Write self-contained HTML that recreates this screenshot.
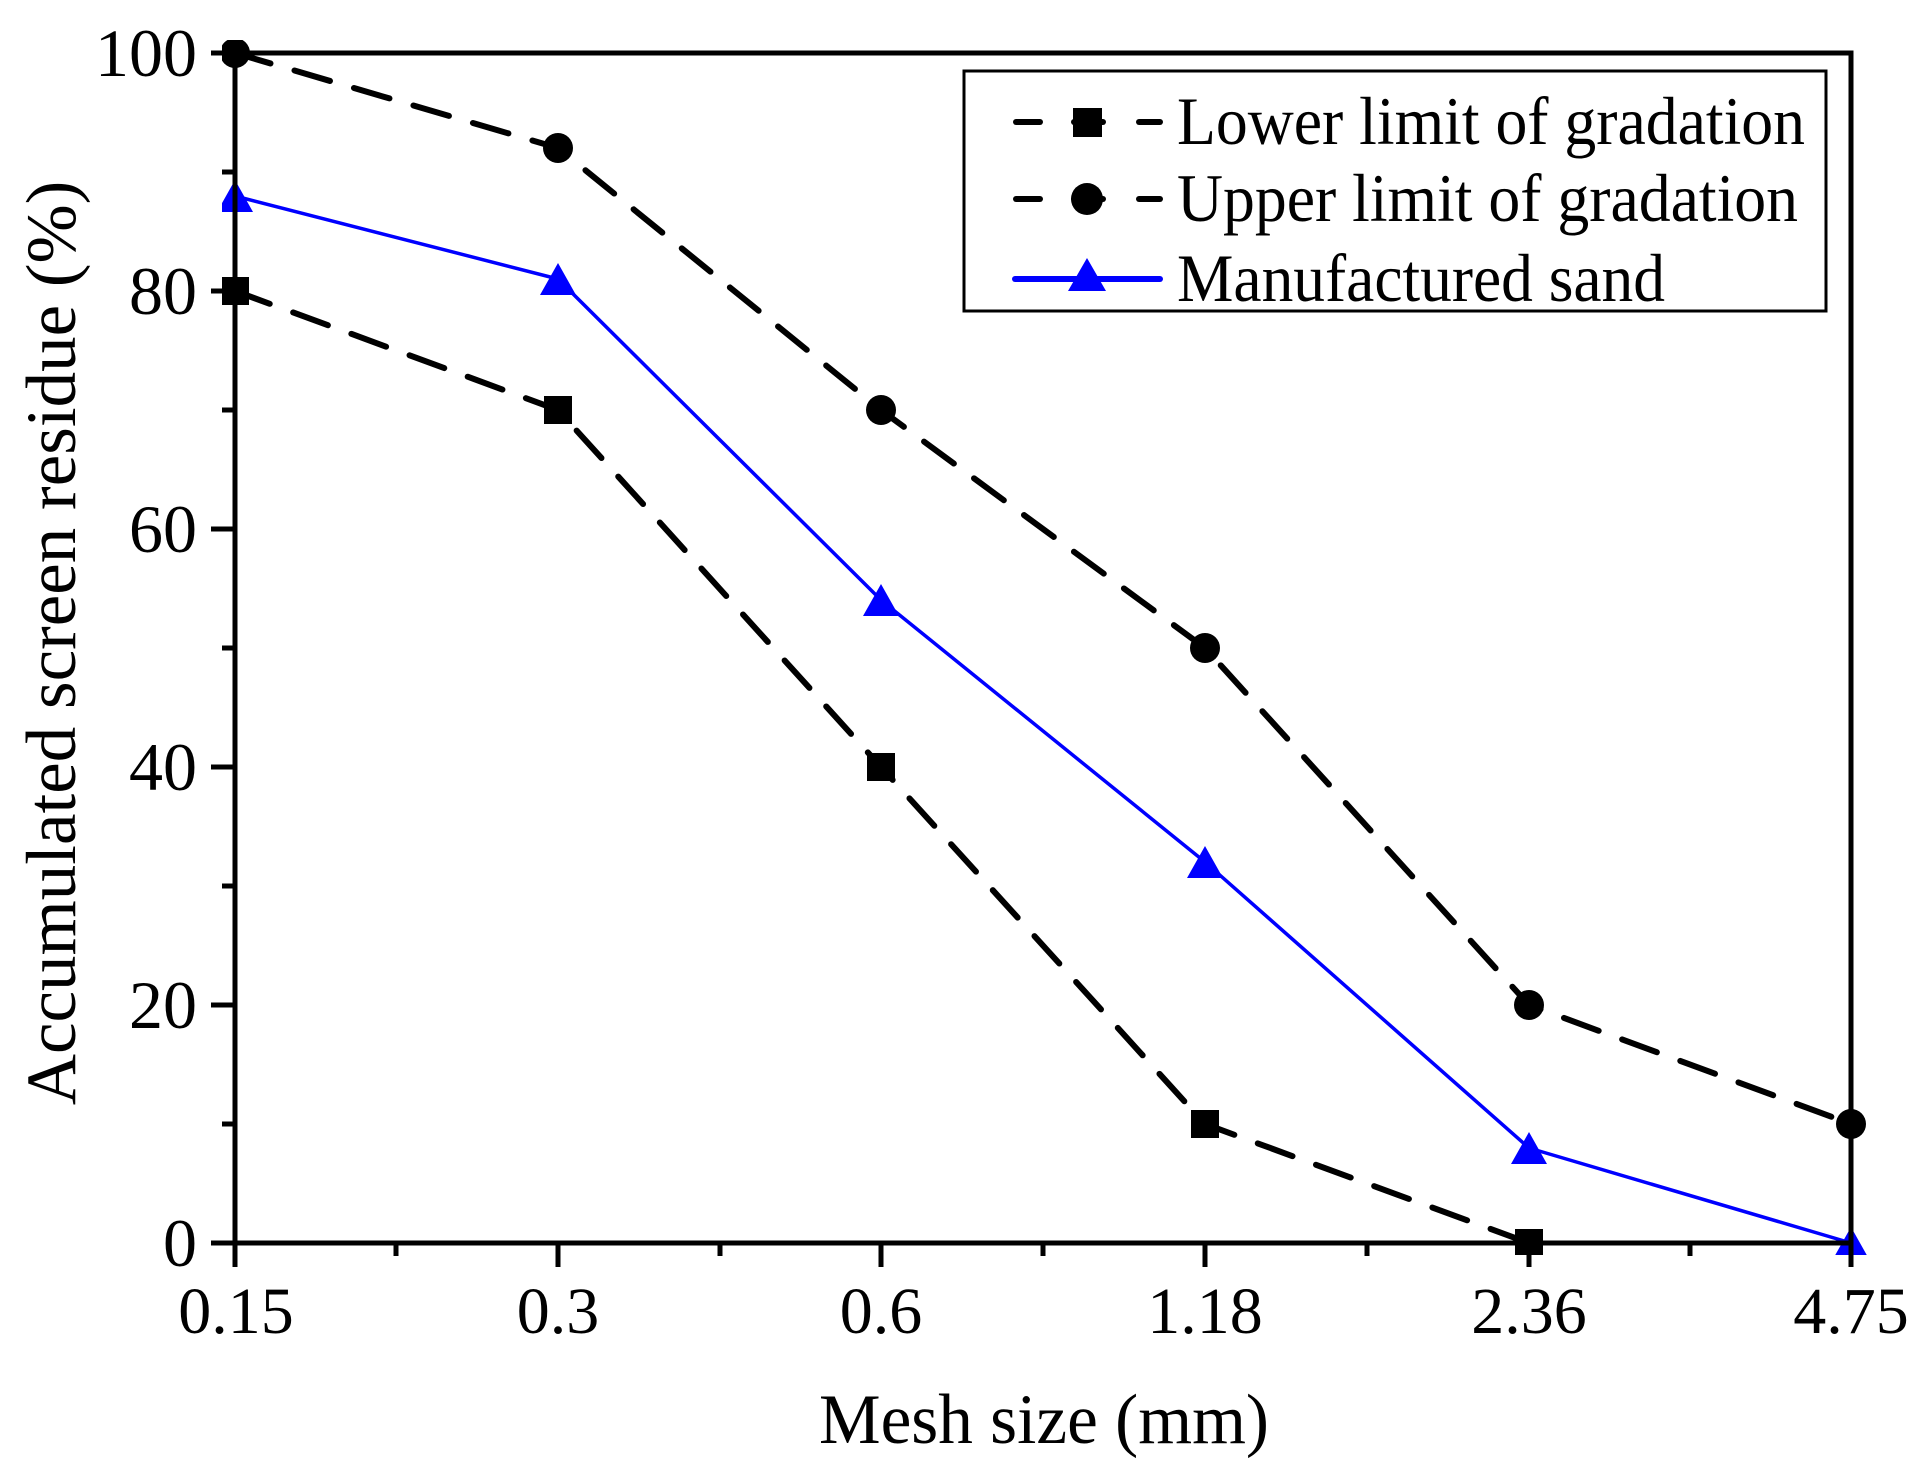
<!DOCTYPE html>
<html><head><meta charset="utf-8"><style>html,body{margin:0;padding:0;background:#fff}svg{display:block}text{font-family:"Liberation Serif",serif;fill:#000}</style></head>
<body>
<svg width="1922" height="1478" viewBox="0 0 1922 1478" xmlns="http://www.w3.org/2000/svg">
<defs>
<clipPath id="c"><rect x="222" y="40" width="1645" height="1215"/></clipPath>
</defs>
<g clip-path="url(#c)" fill="none" stroke-linejoin="round">
<polyline points="235,291 558,410 881,767 1205,1124 1529,1243" stroke="#000" stroke-width="6" stroke-dasharray="37,25" stroke-linecap="round"/>
<polyline points="235,53 558,148 881,410 1205,648 1529,1005 1851,1124" stroke="#000" stroke-width="6" stroke-dasharray="37,25" stroke-linecap="round"/>
<polyline points="235,196 558,279 881,600 1205,862 1529,1148 1851,1243" stroke="#0000ff" stroke-width="3.5"/>
<g fill="#000" stroke="none">
<rect x="221" y="277" width="28" height="28"/><rect x="544" y="396" width="28" height="28"/><rect x="867" y="753" width="28" height="28"/><rect x="1191" y="1110" width="28" height="28"/><rect x="1515" y="1229" width="28" height="28"/>
<circle cx="235" cy="53" r="15"/><circle cx="558" cy="148" r="15"/><circle cx="881" cy="410" r="15"/><circle cx="1205" cy="648" r="15"/><circle cx="1529" cy="1005" r="15"/><circle cx="1851" cy="1124" r="15"/>
</g>
<g fill="#0000ff" stroke="none">
<path d="M235,180 l18,32 h-36z"/><path d="M558,263 l18,32 h-36z"/><path d="M881,584 l18,32 h-36z"/><path d="M1205,846 l18,32 h-36z"/><path d="M1529,1132 l18,32 h-36z"/><path d="M1851,1227 l18,32 h-36z"/>
</g>
</g>
<rect x="235" y="53" width="1616" height="1190" fill="none" stroke="#000" stroke-width="5"/>
<g stroke="#000" stroke-width="5">
<line x1="235" y1="1243" x2="235" y2="1267"/><line x1="558" y1="1243" x2="558" y2="1267"/><line x1="881" y1="1243" x2="881" y2="1267"/><line x1="1205" y1="1243" x2="1205" y2="1267"/><line x1="1529" y1="1243" x2="1529" y2="1267"/><line x1="1851" y1="1243" x2="1851" y2="1267"/>
<line x1="396" y1="1243" x2="396" y2="1256"/><line x1="720" y1="1243" x2="720" y2="1256"/><line x1="1043" y1="1243" x2="1043" y2="1256"/><line x1="1367" y1="1243" x2="1367" y2="1256"/><line x1="1690" y1="1243" x2="1690" y2="1256"/>
<line x1="211" y1="53" x2="235" y2="53"/><line x1="211" y1="291" x2="235" y2="291"/><line x1="211" y1="529" x2="235" y2="529"/><line x1="211" y1="767" x2="235" y2="767"/><line x1="211" y1="1005" x2="235" y2="1005"/><line x1="211" y1="1243" x2="235" y2="1243"/>
<line x1="222" y1="172" x2="235" y2="172"/><line x1="222" y1="410" x2="235" y2="410"/><line x1="222" y1="648" x2="235" y2="648"/><line x1="222" y1="886" x2="235" y2="886"/><line x1="222" y1="1124" x2="235" y2="1124"/>
</g>
<g font-size="68" text-anchor="end">
<text x="197" y="76">100</text><text x="197" y="314">80</text><text x="197" y="552">60</text><text x="197" y="790">40</text><text x="197" y="1028">20</text><text x="197" y="1266">0</text>
</g>
<g font-size="66" text-anchor="middle">
<text x="236" y="1333">0.15</text><text x="558" y="1333">0.3</text><text x="881" y="1333">0.6</text><text x="1205" y="1333">1.18</text><text x="1529" y="1333">2.36</text><text x="1851" y="1333">4.75</text>
</g>
<text x="1044" y="1443" font-size="71" text-anchor="middle" textLength="450" lengthAdjust="spacingAndGlyphs">Mesh size (mm)</text>
<text transform="translate(75,643) rotate(-90)" font-size="71" text-anchor="middle">Accumulated screen residue (%)</text>
<rect x="964" y="71" width="862" height="240" fill="#fff" stroke="#000" stroke-width="3"/>
<g stroke="#000" stroke-width="6" stroke-linecap="round">
<line x1="1016" y1="122" x2="1040" y2="122"/><line x1="1074" y1="122" x2="1103" y2="122"/><line x1="1139" y1="122" x2="1160" y2="122"/>
<line x1="1016" y1="199" x2="1040" y2="199"/><line x1="1074" y1="199" x2="1103" y2="199"/><line x1="1139" y1="199" x2="1160" y2="199"/>
</g>
<rect x="1073" y="108" width="29" height="29" fill="#000"/>
<circle cx="1087" cy="199" r="16" fill="#000"/>
<line x1="1015" y1="279" x2="1160" y2="279" stroke="#0000ff" stroke-width="6" stroke-linecap="round"/>
<path d="M1087,258 l19,33 h-38z" fill="#0000ff"/>
<g font-size="68" lengthAdjust="spacingAndGlyphs">
<text x="1177" y="144" textLength="628" lengthAdjust="spacingAndGlyphs">Lower limit of gradation</text>
<text x="1177" y="221" textLength="621" lengthAdjust="spacingAndGlyphs">Upper limit of gradation</text>
<text x="1177" y="301" textLength="488" lengthAdjust="spacingAndGlyphs">Manufactured sand</text>
</g>
</svg>
</body></html>
